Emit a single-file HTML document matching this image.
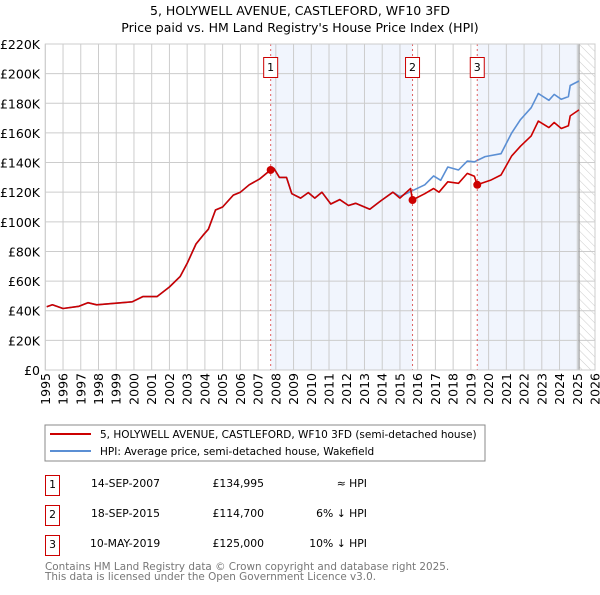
<!DOCTYPE html>
<html><head><meta charset="utf-8"><style>
body{margin:0;background:#fff;width:600px;height:590px;overflow:hidden;font-family:"Liberation Sans","DejaVu Sans",sans-serif}
svg text{font-family:"DejaVu Sans","Liberation Sans",sans-serif}
</style></head><body>
<svg id="c" width="600" height="590" viewBox="0 0 600 590">
<defs><pattern id="hatch" width="6" height="6" patternUnits="userSpaceOnUse" patternTransform="rotate(-45)"><line x1="0" y1="0" x2="0" y2="6" stroke="#ccc" stroke-width="1"/></pattern></defs>
<text x="300" y="15" text-anchor="middle" font-size="12.5">5, HOLYWELL AVENUE, CASTLEFORD, WF10 3FD</text>
<text x="300" y="32" text-anchor="middle" font-size="12.5">Price paid vs. HM Land Registry's House Price Index (HPI)</text>
<g id="plot"></g>
<rect x="45" y="425" width="440" height="36" fill="#fff" stroke="#888"/>
<line x1="50" y1="434" x2="91" y2="434" stroke="#cc0000" stroke-width="2"/>
<text x="100" y="438" font-size="10.5">5, HOLYWELL AVENUE, CASTLEFORD, WF10 3FD (semi-detached house)</text>
<line x1="50" y1="451" x2="91" y2="451" stroke="#5b8fd4" stroke-width="2"/>
<text x="100" y="455" font-size="10.5">HPI: Average price, semi-detached house, Wakefield</text>
<g font-size="10.8">
<rect x="45.5" y="475.5" width="14" height="20" fill="none" stroke="#c00"/><text x="52.5" y="488" text-anchor="middle">1</text>
<text x="91" y="487">14-SEP-2007</text><text x="264" y="487" text-anchor="end">£134,995</text><text x="367" y="487" text-anchor="end">≈ HPI</text>
<rect x="45.5" y="505.5" width="14" height="20" fill="none" stroke="#c00"/><text x="52.5" y="518" text-anchor="middle">2</text>
<text x="91" y="517">18-SEP-2015</text><text x="264" y="517" text-anchor="end">£114,700</text><text x="367" y="517" text-anchor="end">6% ↓ HPI</text>
<rect x="45.5" y="535.5" width="14" height="20" fill="none" stroke="#c00"/><text x="52.5" y="548" text-anchor="middle">3</text>
<text x="90" y="547">10-MAY-2019</text><text x="264" y="547" text-anchor="end">£125,000</text><text x="367" y="547" text-anchor="end">10% ↓ HPI</text>
</g>
<text x="45" y="570" font-size="10.4" fill="#777">Contains HM Land Registry data © Crown copyright and database right 2025.</text>
<text x="45" y="580" font-size="10.4" fill="#777">This data is licensed under the Open Government Licence v3.0.</text>
</svg>
<script>
const yTicks=[0,20,40,60,80,100,120,140,160,180,200,220];
const yTickLabels=["£0","£20K","£40K","£60K","£80K","£100K","£120K","£140K","£160K","£180K","£200K","£220K"];
const years=[1995,1996,1997,1998,1999,2000,2001,2002,2003,2004,2005,2006,2007,2008,2009,2010,2011,2012,2013,2014,2015,2016,2017,2018,2019,2020,2021,2022,2023,2024,2025,2026];
const propT=[1995.08,1995.4,1996.0,1996.9,1997.4,1997.9,1998.9,1999.9,2000.5,2001.3,2002.0,2002.6,2003.0,2003.5,2003.9,2004.2,2004.6,2005.0,2005.6,2006.0,2006.5,2007.1,2007.7,2007.9,2008.2,2008.6,2008.9,2009.4,2009.83,2010.2,2010.6,2011.1,2011.6,2012.1,2012.5,2013.3,2013.9,2014.6,2015.0,2015.6,2015.7,2016.4,2016.9,2017.2,2017.7,2018.3,2018.8,2019.2,2019.35,2020.1,2020.7,2021.3,2021.8,2022.4,2022.8,2023.4,2023.7,2024.1,2024.5,2024.6,2025.1];
const propV=[42.7,44,41.5,43,45.4,44,45,46,49.5,49.5,56,63,72,85,91,95,108,110,118,120,125,129,135,136,130,130,119,116,119.7,116,120,112,115,111,112.5,108.5,114,120,116,122.5,114.7,119,122.5,120,127,126,132.7,130.7,125,128,131.6,144.5,151,158,168,163.6,167,163,164.8,171.5,175.5];
const hpiT=[1995.08,1995.4,1996.0,1996.9,1997.4,1997.9,1998.9,1999.9,2000.5,2001.3,2002.0,2002.6,2003.0,2003.5,2003.9,2004.2,2004.6,2005.0,2005.6,2006.0,2006.5,2007.1,2007.7,2007.9,2008.2,2008.6,2008.9,2009.4,2009.83,2010.2,2010.6,2011.1,2011.6,2012.1,2012.5,2013.3,2013.9,2014.6,2015.0,2015.7,2016.4,2016.9,2017.3,2017.7,2018.3,2018.8,2019.2,2019.8,2020.7,2021.3,2021.8,2022.4,2022.8,2023.4,2023.7,2024.1,2024.5,2024.6,2025.1];
const hpiV=[42.7,44,41.5,43,45.4,44,45,46,49.5,49.5,56,63,72,85,91,95,108,110,118,120,125,129,135,136,130,130,119,116,119.7,116,120,112,115,111,112.5,108.5,114,120,117,121,125,131,128,137,135,141,140.5,144,146,160,169,177,186.6,182,186,182.7,184.5,192,195];
const saleT=[2007.71,2015.71,2019.36];
const saleV=[134.995,114.7,125];
const saleLabels=["1","2","3"];
const dataEnd=2025.1;

const X0=45.3,X1=595,Y0=370,Y1=44;
const x=t=>X0+(t-1995)/(2026-1995)*(X1-X0);
const y=v=>Y0-v/220*(Y0-Y1);
const NS="http://www.w3.org/2000/svg";
const g=document.getElementById('plot');
function mk(tag,attrs){const e=document.createElementNS(NS,tag);for(const k in attrs)e.setAttribute(k,attrs[k]);g.appendChild(e);return e;}

let r=mk('rect',{x:x(saleT[0]),y:Y1,width:x(saleT[1])-x(saleT[0]),height:Y0-Y1,fill:'#eef2fc',opacity:0.8});


r=mk('rect',{x:x(saleT[2]),y:Y1,width:x(dataEnd)-x(saleT[2]),height:Y0-Y1,fill:'#eef2fc',opacity:0.8});


r=mk('rect',{x:x(dataEnd),y:Y1,width:X1-x(dataEnd),height:Y0-Y1,fill:'url(#hatch)'});



yTicks.forEach((v,i)=>{
 const l=mk('line',{x1:X0,x2:X1,y1:y(v),y2:y(v),stroke:'#ccc','stroke-width':1});
 
 
 const t=mk('text',{x:40,y:y(v)+5,'text-anchor':'end','font-size':'12.5'});
 t.textContent=yTickLabels[i];
 
 
});
years.forEach(yr=>{
 const l=mk('line',{x1:x(yr),x2:x(yr),y1:Y1,y2:Y0,stroke:'#ccc','stroke-width':1});
 
 
 const t=mk('text',{x:0,y:0,'text-anchor':'end','font-size':'12.5',transform:`translate(${x(yr)+4.5},373) rotate(-90)`});
 t.textContent=yr;
 
 
});
let el=mk('line',{x1:x(dataEnd),x2:x(dataEnd),y1:Y1,y2:Y0,stroke:'#999','stroke-width':1.2});



function path(T,V,col,name){
 const d=T.map((t,i)=>(i?'L':'M')+x(t).toFixed(1)+','+y(V[i]).toFixed(1)).join('');
 const p=mk('path',{d:d,fill:'none',stroke:col,'stroke-width':1.6,'stroke-linejoin':'round'});
 
 
}
path(hpiT,hpiV,'#5b8fd4','hpi-line');
path(propT,propV,'#cc0000','property-line');

saleT.forEach((t,i)=>{
 const l=mk('line',{x1:x(t),x2:x(t),y1:Y1,y2:Y0,stroke:'#e06060','stroke-width':1,'stroke-dasharray':'2,3'});
 
 
 const c=mk('circle',{cx:x(t),cy:y(saleV[i]),r:4,fill:'#cc0000'});
 
 
 const b=mk('rect',{x:x(t)-7,y:57.5,width:14,height:20,fill:'#fff',stroke:'#c00'});
 
 
 const tx=mk('text',{x:x(t),y:71,'text-anchor':'middle','font-size':'11'});
 tx.textContent=saleLabels[i];
 
 
});
el=mk('rect',{x:X0,y:Y1,width:X1-X0,height:Y0-Y1,fill:'none',stroke:'#ccc'});


</script>
</body></html>
